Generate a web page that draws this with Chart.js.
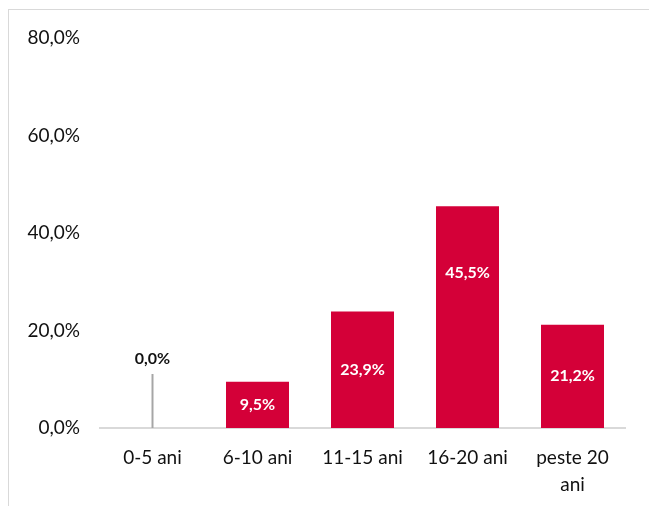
<!DOCTYPE html>
<html lang="ro">
<head>
  <meta charset="UTF-8">
  <title>Vechime</title>
  <script src="https://cdn.jsdelivr.net/npm/chart.js"></script>
  <style>
    html, body { margin: 0; padding: 0; background: #fff; overflow: hidden; }
    #frame {
      position: absolute; left: 8px; top: 9px;
      width: 700px; height: 600px;
      border-left: 1px solid #d9d9d9; border-top: 1px solid #d9d9d9;
    }
    #chartContainer { position: absolute; left: 0; top: 0; width: 649px; height: 506px; }
  </style>
</head>
<body>
  <div id="frame"></div>
  <div id="chartContainer">
    <canvas id="barChart" width="649" height="506"></canvas>
  </div>

  <script>
    // categories and values (%)
    const categories = ['0-5 ani', '6-10 ani', '11-15 ani', '16-20 ani', ['peste 20', 'ani']];
    const values = [0.0, 9.5, 23.9, 45.5, 21.2];
    const yTicks = [0, 20, 40, 60, 80];

    const fmt = v => v.toFixed(1).replace('.', ',') + '%';

    // draws value labels; zero bar gets a leader line with label above
    const labelPlugin = {
      id: 'barLabels',
      afterDatasetsDraw(chart) {
        const ctx = chart.ctx;
        const meta = chart.getDatasetMeta(0);
        const yScale = chart.scales.y;
        const labelFrac = [0, 0.5, 0.5, 0.3, 0.5]; // measured down from bar top
        ctx.save();
        ctx.font = 'bold 16px Lato';
        ctx.textAlign = 'center';
        ctx.textBaseline = 'middle';
        meta.data.forEach((bar, i) => {
          const v = values[i];
          const base = yScale.getPixelForValue(0);
          if (v === 0) {
            ctx.strokeStyle = '#a6a6a6';
            ctx.lineWidth = 2;
            ctx.beginPath();
            ctx.moveTo(bar.x, base);
            ctx.lineTo(bar.x, base - 54);
            ctx.stroke();
            ctx.fillStyle = '#111';
            ctx.fillText(fmt(v), bar.x, base - 69);
          } else {
            const top = yScale.getPixelForValue(v);
            ctx.fillStyle = '#fff';
            ctx.fillText(fmt(v), bar.x, top + (base - top) * labelFrac[i]);
          }
        });
        ctx.restore();
      }
    };

    const ctx = document.getElementById('barChart').getContext('2d');
    new Chart(ctx, {
      type: 'bar',
      data: {
        labels: categories,
        datasets: [{
          data: values,
          backgroundColor: '#D40038',
          categoryPercentage: 1.0,
          barPercentage: 0.6
        }]
      },
      options: {
        responsive: false,
        animation: false,
        layout: { padding: { top: 38, right: 24, left: 0, bottom: 0 } },
        plugins: { legend: { display: false }, tooltip: { enabled: false } },
        scales: {
          y: {
            min: 0, max: 80,
            afterBuildTicks: s => { s.ticks = yTicks.map(v => ({ value: v })); },
            afterFit: s => { s.width = 100; },
            grid: { display: false, drawTicks: false },
            border: { display: false },
            ticks: {
              padding: 20,
              color: '#111',
              font: { family: 'Lato', size: 19 },
              callback: v => fmt(v)
            }
          },
          x: {
            afterFit: s => { s.height = 78; },
            grid: { display: false, drawTicks: false },
            border: { display: true, color: '#d9d9d9', width: 2 },
            ticks: {
              padding: 17,
              color: '#111',
              maxRotation: 0,
              font: { family: 'Lato', size: 19, lineHeight: 1.4 }
            }
          }
        }
      },
      plugins: [labelPlugin]
    });
  </script>
</body>
</html>
